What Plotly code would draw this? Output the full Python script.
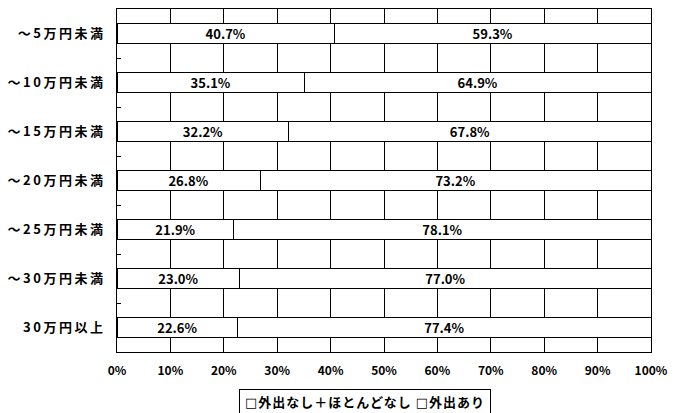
import plotly.graph_objects as go

categories = ["～5万円未満", "～10万円未満", "～15万円未満", "～20万円未満", "～25万円未満", "～30万円未満", "30万円以上"]
no_outing = [40.7, 35.1, 32.2, 26.8, 21.9, 23.0, 22.6]
outing = [59.3, 64.9, 67.8, 73.2, 78.1, 77.0, 77.4]
series_names = ["外出なし＋ほとんどなし", "外出あり"]
x_ticks = [0, 10, 20, 30, 40, 50, 60, 70, 80, 90, 100]

FONT = "Noto Sans CJK JP"

fig = go.Figure()
for name, vals in zip(series_names, [no_outing, outing]):
    fig.add_trace(go.Bar(
        y=categories, x=vals, name=name, orientation="h",
        width=0.4,
        marker=dict(color="white", line=dict(color="black", width=1)),
        text=[f"<b>{v:.1f}%</b>" for v in vals],
        textposition="inside", insidetextanchor="middle",
        textfont=dict(family=FONT, size=13, color="black"),
        constraintext="none",
        showlegend=False,
        hoverinfo="skip",
    ))

box = "<span style='font-family:DejaVu Sans'>□</span>"
legend_text = "<b>" + " ".join(box + n for n in series_names) + "</b>"

fig.update_layout(
    barmode="stack",
    width=676, height=413,
    margin=dict(l=117, r=20, t=8, b=61),
    paper_bgcolor="white", plot_bgcolor="white",
    font=dict(family=FONT, size=12, color="black"),
    showlegend=False,
    uniformtext=dict(mode=False),
    annotations=[dict(
        text=legend_text, xref="paper", yref="paper",
        x=0.464, y=-0.145, xanchor="center", yanchor="middle",
        width=246, align="center",
        showarrow=False, bordercolor="black", borderwidth=1, borderpad=2,
        bgcolor="white", font=dict(family=FONT, size=13, color="black"),
    )],
)
fig.update_xaxes(
    range=[0, 100], tickvals=x_ticks,
    ticktext=[f"<b>{t}%</b>" for t in x_ticks],
    showgrid=True, gridcolor="black", gridwidth=1,
    showline=True, linecolor="black", linewidth=1, mirror=True,
    ticks="", zeroline=False, ticklabelstandoff=8,
    tickfont=dict(family=FONT, size=12, color="black"),
)
fig.update_yaxes(
    categoryorder="array", categoryarray=categories, autorange="reversed",
    tickvals=categories, ticktext=[f"<b>{c}</b>" for c in categories],
    showline=True, linecolor="black", linewidth=1, mirror=True,
    ticks="inside", ticklen=4, tickson="boundaries", tickcolor="black",
    showgrid=False, ticklabelstandoff=8,
    tickfont=dict(family=FONT, size=13, color="black"),
)

post = """
document.body.style.margin='0px';
document.querySelectorAll('.ytick text').forEach(function(t){t.style.letterSpacing='2.5px';});
document.querySelectorAll('.annotation-text').forEach(function(t){t.style.letterSpacing='1px';});
"""
fig.write_html("out.html", post_script=post, config={"displayModeBar": False})
